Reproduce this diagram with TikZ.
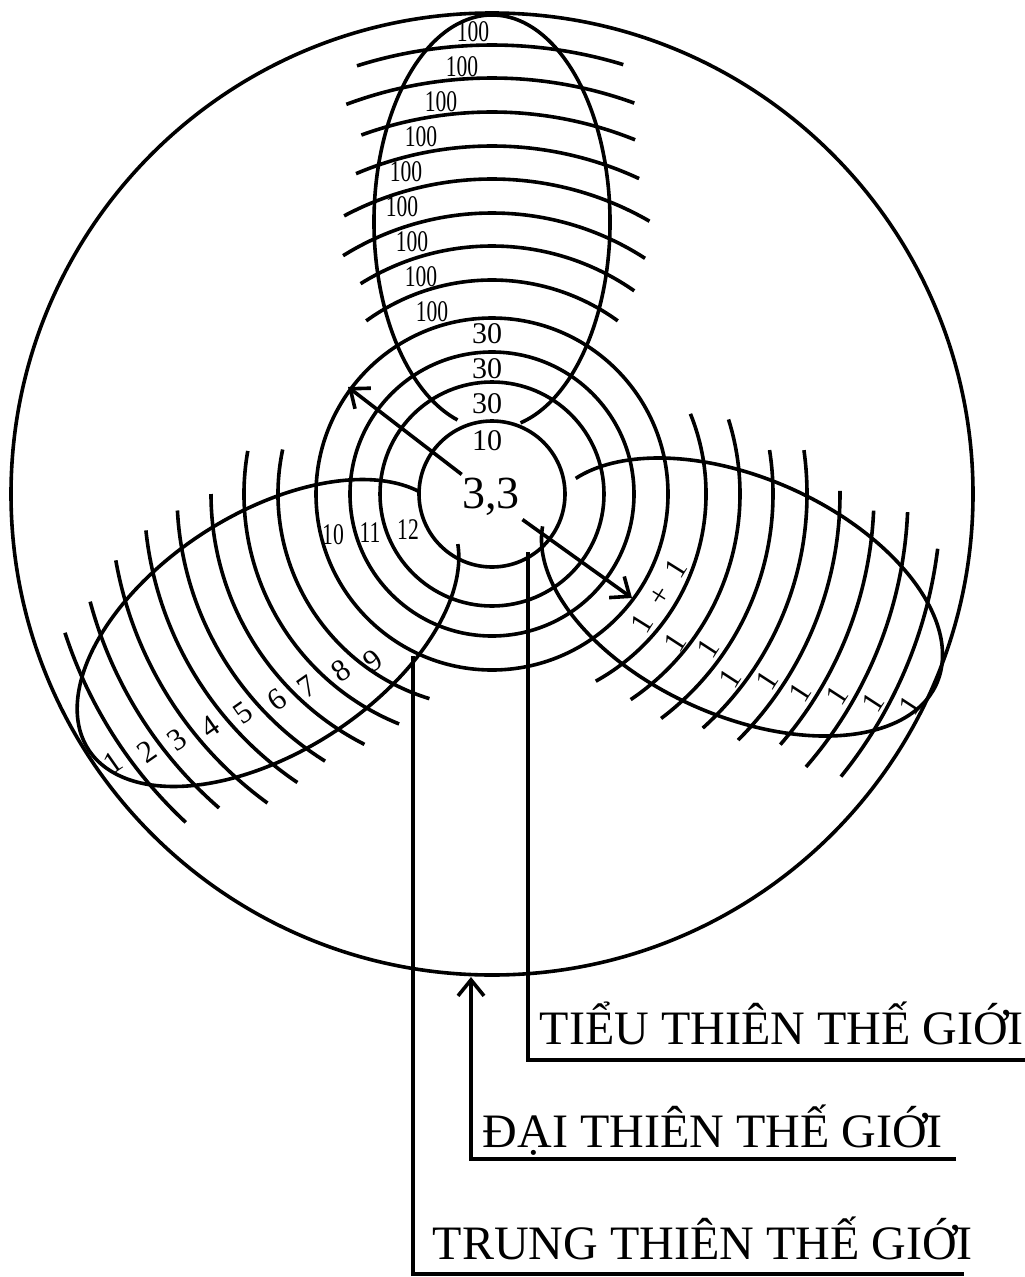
\documentclass[tikz,border=0pt]{standalone}
\usepackage{fontspec}
\setmainfont{Liberation Serif}
\usepackage{graphicx}
\usetikzlibrary{arrows.meta}

\newcommand{\narrow}[1]{\scalebox{0.72}[1]{#1}}

\begin{document}
\begin{tikzpicture}[x=1pt, y=-1pt, line width=3.6pt,
  lbl/.style={font=\fontsize{30}{30}\selectfont, inner sep=0pt},
  tilt/.style={font=\fontsize{31}{31}\selectfont, inner sep=0pt},
  big/.style={font=\fontsize{48}{48}\selectfont, inner sep=0pt},
  barb/.style={-{Straight Barb[length=16pt, width=26pt]}}]
  \useasboundingbox (0,0) rectangle (1025,1277);
  \coordinate (o) at (492,494);
  % rings round the centre
  \draw (o) circle[radius=481pt];
  \foreach \r in {73,112,142,176} \draw (o) circle[radius=\r pt];
  % the three lobes
  \draw[shift={(492,222)}] (-76:118pt and 207pt) arc[start angle=-76, end angle=253, x radius=118pt, y radius=207pt];
  \draw[shift={(268,633)}, rotate=33] (18:214pt and 119pt) arc[start angle=18, end angle=346, x radius=214pt, y radius=119pt];
  \draw[shift={(742,597)}, rotate=-24] (188:213pt and 119pt) arc[start angle=188, end angle=520, x radius=213pt, y radius=119pt];
  % arcs: top, left, right
  \foreach \r/\a/\b in {214/126/54, 248/122/55, 281/122/57, 315/118/60, 348/113/65, 382/110/68, 416/110.5/70, 449/107.5/73}
    \draw[shift={(o)}] (\a:\r pt) arc[start angle=\a, end angle=\b, radius=\r pt];
  \foreach \r/\a/\b in {214/168/253, 248/170/248, 281/180/243, 315/183/238, 348/186/236, 382/190/234, 416/195/229, 449/198/227}
    \draw[shift={(o)}] (\a:\r pt) arc[start angle=\a, end angle=\b, radius=\r pt];
  \foreach \r/\a/\b in {214/22/-61, 248/17.5/-56, 281/9/-53, 315/8/-48, 348/0.5/-45, 382/-2.5/-41, 416/-2.5/-41, 449/-7/-39}
    \draw[shift={(o)}] (\a:\r pt) arc[start angle=\a, end angle=\b, radius=\r pt];
  % labels
  \node[font=\fontsize{46}{46}\selectfont, inner sep=2pt] (core) at (491,497) {3,3};
  \node[lbl] (ten) at (487,441) {10};
  \foreach \y in {334,369,404} \node[lbl] (t\y) at (487,\y) {30};
  \foreach \x/\y in {473/32, 462/67, 441/102, 421/137, 406/172, 402/207, 412/242, 421/277, 432/312}
    \node[lbl] (h\y) at (\x,\y) {\narrow{100}};
  \foreach \x/\y/\n in {333/535/10, 370/533/11, 408/530/12} \node[lbl] (l\n) at (\x,\y) {\narrow{\n}};
  \foreach \x/\y/\n in {113/763/1, 147/752/2, 177/740/3, 210/727/4, 243/713/5, 277/700/6, 307/687/7, 341/671/8, 373/661/9}
    \node[tilt, rotate=35] (d\n) at (\x,\y) {\n};
  \node[tilt, rotate=58] (sum) at (659,596) {1\enspace+\enspace1};
  \foreach \x/\y [count=\i] in {675/642, 708/648, 730/678, 767/680, 800/692, 837/695, 873/702, 910/705}
    \node[tilt, rotate=57] (one\i) at (\x,\y) {1};
  % arrows from the centre
  \coordinate (ringNW) at (348,387);
  \coordinate (ringSE) at (632,598);
  \draw[barb] (core) -- (ringNW);
  \draw[barb] (core) -- (ringSE);
  % legend
  \node[big, anchor=base west] (tieu) at (538,1044) {TIỂU THIÊN THẾ GIỚI};
  \node[big, anchor=base west] (dai) at (481,1147) {ĐẠI THIÊN THẾ GIỚI};
  \node[big, anchor=base west] (trung) at (431,1259) {TRUNG THIÊN THẾ GIỚI};
  \coordinate (tieuTop) at (528,552);
  \coordinate (tieuEnd) at (1025,1060);
  \coordinate (daiTip) at (471,977);
  \coordinate (daiEnd) at (956,1159);
  \coordinate (trungTop) at (413,656);
  \coordinate (trungEnd) at (964,1274);
  \draw (tieuTop) |- (tieuEnd);
  \draw[barb] (daiEnd) -| (daiTip);
  \draw (trungTop) |- (trungEnd);
\end{tikzpicture}
\end{document}
